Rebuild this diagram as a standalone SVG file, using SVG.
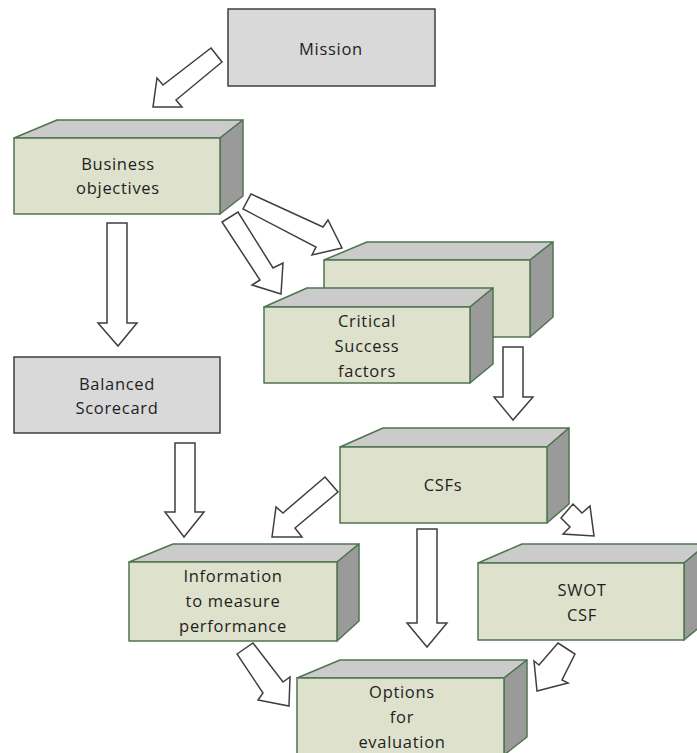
<svg xmlns="http://www.w3.org/2000/svg" width="697" height="753" viewBox="0 0 697 753">
  <style>
    .flat { fill: #d9d9d9; stroke: #3f3f3f; stroke-width: 1.5; }
    .front { fill: #dee2cc; stroke: #4f7550; stroke-width: 1.5; stroke-linejoin: round; }
    .top { fill: #cbcbcb; stroke: #4f7550; stroke-width: 1.5; stroke-linejoin: round; }
    .side { fill: #9a9a9a; stroke: #4f7550; stroke-width: 1.5; stroke-linejoin: round; }
    .arrow { fill: #ffffff; stroke: #3f3f3f; stroke-width: 1.5; stroke-linejoin: miter; }
    text { font-family: "Open Sans", "Liberation Sans", sans-serif; font-size: 16.5px; fill: #1e1e1e; text-anchor: middle; letter-spacing: 0.7px; }
  </style>

  <!-- block arrows -->
  <g id="connectors">
    <!-- Mission to Business objectives -->
    <polygon class="arrow" points="211,48 222,62 176,100 182,107 153,107 157,78 163,85"/>
    <!-- Business objectives to Balanced Scorecard -->
    <polygon class="arrow" points="107,223 127,223 127,323 137,323 118,346 98,323 107,323"/>
    <!-- Business objectives to CSF stack (back) -->
    <polygon class="arrow" points="251,194 323,227 328,220 342,248 312,255 316,247 243,209"/>
    <!-- Business objectives to Critical Success factors -->
    <polygon class="arrow" points="222,222 238,212 273,268 283,263 281,294 252,285 260,280"/>
    <!-- Critical Success factors to CSFs -->
    <polygon class="arrow" points="503,347 523,347 523,397 533,397 513,420 494,397 503,397"/>
    <!-- Balanced Scorecard to Information -->
    <polygon class="arrow" points="175,443 195,443 195,512 204,512 184,537 165,512 175,512"/>
    <!-- CSFs to Information -->
    <polygon class="arrow" points="325,477 338,492 295,528 302,537 272,537 276,507 283,513"/>
    <!-- CSFs to SWOT CSF -->
    <polygon class="arrow" points="561,518 573,504 582,513 590,506 594,536 563,534 570,527"/>
    <!-- CSFs to Options -->
    <polygon class="arrow" points="417,529 437,529 437,623 447,623 427,647 407,623 417,623"/>
    <!-- Information to Options -->
    <polygon class="arrow" points="237,654 253,643 283,682 290,677 289,706 258,700 263,693"/>
    <!-- SWOT CSF to Options -->
    <polygon class="arrow" points="558,643 575,654 562,680 568,683 537,691 534,661 539,665"/>
  </g>

  <g id="mission">
    <rect class="flat" x="228" y="9" width="207" height="77"/>
    <text x="331" y="55">Mission</text>
  </g>

  <g id="business-objectives">
    <polygon class="top" points="14,138 57,120 243,120 220,138"/>
    <polygon class="side" points="220,138 243,120 243,196 220,214"/>
    <rect class="front" x="14" y="138" width="206" height="76"/>
    <text x="118" y="170">Business</text>
    <text x="118" y="194">objectives</text>
  </g>

  <g id="csf-stack-back">
    <polygon class="top" points="324,260 367,242 553,242 530,260"/>
    <polygon class="side" points="530,260 553,242 553,317 530,337"/>
    <rect class="front" x="324" y="260" width="206" height="77"/>
  </g>

  <g id="critical-success-factors">
    <polygon class="top" points="264,307 307,288 493,288 470,307"/>
    <polygon class="side" points="470,307 493,288 493,364 470,383"/>
    <rect class="front" x="264" y="307" width="206" height="76"/>
    <text x="367" y="327">Critical</text>
    <text x="367" y="352">Success</text>
    <text x="367" y="377">factors</text>
  </g>

  <g id="balanced-scorecard">
    <rect class="flat" x="14" y="357" width="206" height="76"/>
    <text x="117" y="390">Balanced</text>
    <text x="117" y="414">Scorecard</text>
  </g>

  <g id="csfs">
    <polygon class="top" points="340,447 383,428 569,428 547,447"/>
    <polygon class="side" points="547,447 569,428 569,504 547,523"/>
    <rect class="front" x="340" y="447" width="207" height="76"/>
    <text x="443" y="491">CSFs</text>
  </g>

  <g id="information">
    <polygon class="top" points="129,562 173,544 359,544 337,562"/>
    <polygon class="side" points="337,562 359,544 359,621 337,641"/>
    <rect class="front" x="129" y="562" width="208" height="79"/>
    <text x="233" y="582">Information</text>
    <text x="233" y="607">to measure</text>
    <text x="233" y="632">performance</text>
  </g>

  <g id="swot-csf">
    <polygon class="top" points="478,563 522,544 707,544 684,563"/>
    <polygon class="side" points="684,563 707,544 707,621 684,640"/>
    <rect class="front" x="478" y="563" width="206" height="77"/>
    <text x="582" y="596">SWOT</text>
    <text x="582" y="621">CSF</text>
  </g>

  <g id="options">
    <polygon class="top" points="297,678 340,660 527,660 504,678"/>
    <polygon class="side" points="504,678 527,660 527,737 504,755"/>
    <rect class="front" x="297" y="678" width="207" height="77"/>
    <text x="402" y="698">Options</text>
    <text x="402" y="723">for</text>
    <text x="402" y="748">evaluation</text>
  </g>
</svg>
